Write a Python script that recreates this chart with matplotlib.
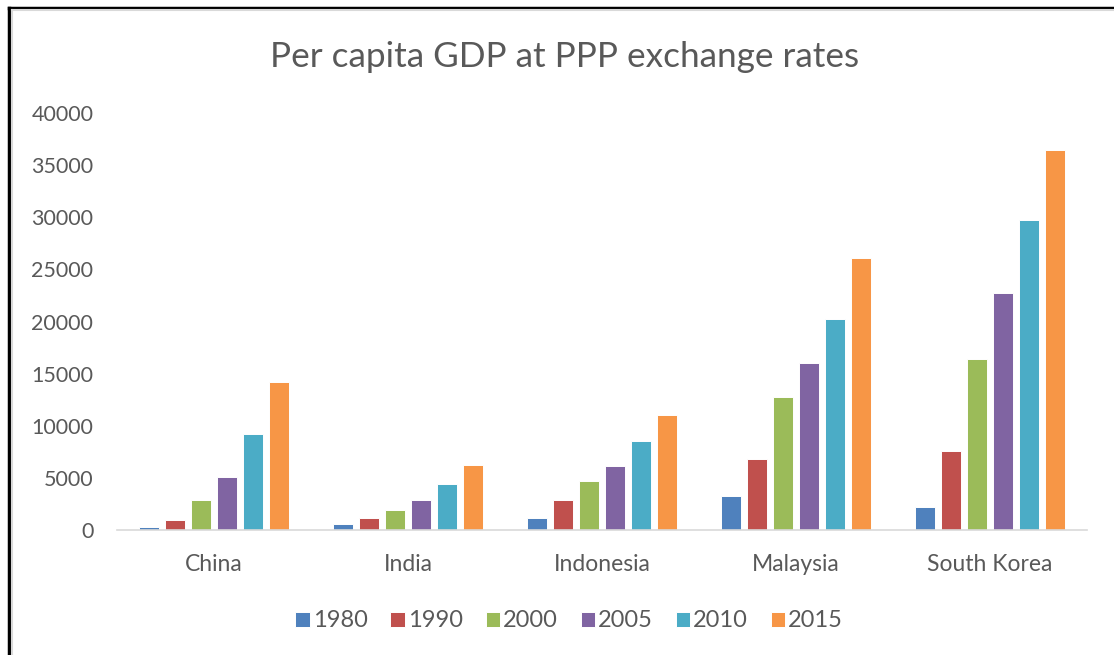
import matplotlib.pyplot as plt
import numpy as np
from matplotlib.lines import Line2D

plt.rcParams['font.family'] = ['Lato', 'DejaVu Sans']

# Data
countries = ['China', 'India', 'Indonesia', 'Malaysia', 'South Korea']
years = ['1980', '1990', '2000', '2005', '2010', '2015']
gdp_1980 = [290, 575, 1200, 3260, 2200]
gdp_1990 = [960, 1180, 2900, 6780, 7550]
gdp_2000 = [2850, 1950, 4700, 12720, 16370]
gdp_2005 = [5050, 2850, 6150, 15980, 22700]
gdp_2010 = [9200, 4410, 8500, 20230, 29720]
gdp_2015 = [14160, 6230, 11000, 26080, 36430]
series = [gdp_1980, gdp_1990, gdp_2000, gdp_2005, gdp_2010, gdp_2015]
colors = ['#4f81bd', '#c0504d', '#9bbb59', '#8064a2', '#4bacc6', '#f79646']

text_color = '#595959'

fig = plt.figure(figsize=(11.14, 6.55), dpi=100)
ax = fig.add_axes([0.105, 0.1908, 0.8707, 0.6367])

x = np.arange(len(countries))
step = 0.134
width = 0.104
for i, (vals, col) in enumerate(zip(series, colors)):
    ax.bar(x + (i - 2.5) * step, vals, width, color=col, edgecolor='white',
           linewidth=0.7, label=years[i])

ax.set_xlim(-0.5, len(countries) - 0.5)
ax.set_ylim(0, 40000)
ax.set_yticks(range(0, 40001, 5000))
ax.set_xticks(x)
ax.set_xticklabels(countries)
ax.tick_params(axis='both', length=0, colors=text_color)
ax.tick_params(axis='x', pad=17, labelsize=16.5)
ax.tick_params(axis='y', pad=17, labelsize=15.5)
for s in ['top', 'right', 'left']:
    ax.spines[s].set_visible(False)
ax.spines['bottom'].set_color('#d9d9d9')
ax.spines['bottom'].set_linewidth(1.2)

fig.text(0.507, 0.913, 'Per capita GDP at PPP exchange rates', ha='center',
         va='center', fontsize=25.3, color=text_color)

fig.legend(loc='center', bbox_to_anchor=(0.511, 0.052), ncol=6, frameon=False,
           fontsize=17, handlelength=0.6, handleheight=0.6, handletextpad=0.15,
           columnspacing=0.95, labelcolor=text_color)

# outer frame (left and top edges visible in the screenshot)
fig.add_artist(Line2D([0.0085, 0.0085], [0, 0.988], color='black', lw=2.5,
                      transform=fig.transFigure))
fig.add_artist(Line2D([0.0085, 1], [0.988, 0.988], color='black', lw=2.5,
                      transform=fig.transFigure))
fig.add_artist(Line2D([0.0105, 0.0105], [0, 0.985], color='#d9d9d9', lw=1.5,
                      transform=fig.transFigure))
fig.add_artist(Line2D([0.0105, 1], [0.984, 0.984], color='#d9d9d9', lw=1.5,
                      transform=fig.transFigure))

fig.savefig('out.png', dpi=100)
